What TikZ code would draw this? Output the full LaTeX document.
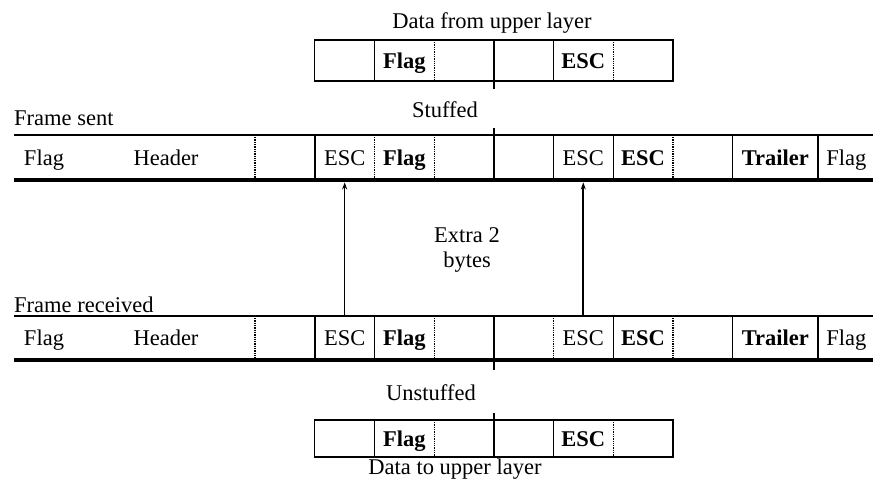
\documentclass[tikz,border=0pt]{standalone}
\usepackage{fontspec}
\setmainfont{Liberation Serif}
\newcommand\bytefont{\bfseries}
\usetikzlibrary{arrows.meta,positioning}

\begin{document}
\begin{tikzpicture}[x=1pt, y=-1pt,
    every node/.style={font=\fontsize{22.5}{25}\selectfont},
    tag/.style={inner sep=0pt, text height=15pt, text depth=0pt},
    cell/.style={tag, minimum width=59.65pt, anchor=west},
    wall/.style={line width=1.5pt},
    gap/.style={line width=1.3pt, densely dotted},
    base/.style={line width=4.5pt},
    arrow/.style={-{Stealth[length=7pt,width=5pt]}, line width=1.6pt, shorten >=2.2pt}
]
\useasboundingbox (0,0) rectangle (873,485);

% Data from upper layer
\node[anchor=base] (upper) at (492,28) {Data from upper layer};
\foreach \i/\txt in {1/{}, 2/{\bytefont Flag}, 3/{}, 4/{}, 5/{\bytefont ESC}, 6/{}}
  \node[cell, minimum height=41pt] (up\i) at (255+59.65*\i, 60.5) {\txt};
\draw[wall] (up1.north west) rectangle (up6.south east);
\foreach \n in {up1,up4} \draw[wall] (\n.north east) -- (\n.south east);
\foreach \n in {up2,up5} \draw[gap] (\n.north east) -- (\n.south east);
\draw[wall] (up3.north east) -- (up3.south east) -- ++(0,8);
\node[anchor=base] (stuffed) at (445,117) {Stuffed};

% Frame sent
\node[anchor=base west, inner sep=0pt] (sentlbl) at (14,125) {Frame sent};
\node[tag] (shflag) at (44,157.5) {Flag};
\node[tag] (shead) at (166,157.5) {Header};
\foreach \i/\txt in {0/{}, 1/ESC, 2/{\bytefont Flag}, 3/{}, 4/{}, 5/ESC, 6/{\bytefont ESC}, 7/{}}
  \node[cell, minimum height=45pt] (s\i) at (255+59.65*\i, 157.5) {\txt};
\node[cell, minimum width=85.2pt, minimum height=45pt, right=0pt of s7] (strail) {\bytefont Trailer};
\node[cell, minimum width=56pt, minimum height=45pt, right=0pt of strail] (sflag) {Flag};
\draw[gap] (s0.north west) -- (s0.south west);
\foreach \n in {s0,s4,s5,s7,strail} \draw[wall] (\n.north east) -- (\n.south east);
\foreach \n in {s1,s2,s6} \draw[gap] (\n.north east) -- (\n.south east);
\draw[wall] (s3.north east) ++(0,-7) -- (s3.south east);
\draw[wall] (14,135) -- (873,135);
\draw[base] (14,180) -- (873,180);

% Frame received
\node[anchor=base west, inner sep=0pt] (rcvdlbl) at (14,312) {Frame received};
\node[tag] (rhflag) at (44,338) {Flag};
\node[tag] (rhead) at (166,338) {Header};
\foreach \i/\txt in {0/{}, 1/ESC, 2/{\bytefont Flag}, 3/{}, 4/{}, 5/ESC, 6/{\bytefont ESC}, 7/{}}
  \node[cell, minimum height=44pt] (r\i) at (255+59.65*\i, 338) {\txt};
\node[cell, minimum width=85.2pt, minimum height=44pt, right=0pt of r7] (rtrail) {\bytefont Trailer};
\node[cell, minimum width=56pt, minimum height=44pt, right=0pt of rtrail] (rflag) {Flag};
\draw[gap] (r0.north west) -- (r0.south west);
\foreach \n in {r0,r1,r5,r7,rtrail} \draw[wall] (\n.north east) -- (\n.south east);
\foreach \n in {r2,r4,r6} \draw[gap] (\n.north east) -- (\n.south east);
\draw[wall] (r3.north east) -- (r3.south east) -- ++(0,10);
\draw[wall] (14,316) -- (873,316);
\draw[base] (14,360) -- (873,360);

% Extra bytes
\draw[arrow] (r1.north) -- (s1.south);
\draw[arrow] (r5.north) -- (s5.south);
\node[align=center, anchor=base] (extra) at (467,267) {Extra 2\\bytes};

% Data to upper layer
\node[anchor=base] (unstuffed) at (431,400) {Unstuffed};
\foreach \i/\txt in {1/{}, 2/{\bytefont Flag}, 3/{}, 4/{}, 5/{\bytefont ESC}, 6/{}}
  \node[cell, minimum height=37pt] (dn\i) at (255+59.65*\i, 438.5) {\txt};
\draw[wall] (dn1.north west) rectangle (dn6.south east);
\foreach \n in {dn1,dn4} \draw[wall] (\n.north east) -- (\n.south east);
\foreach \n in {dn2,dn5} \draw[gap] (\n.north east) -- (\n.south east);
\draw[wall] (dn3.north east) ++(0,-7) -- (dn3.south east);
\node[anchor=base] (lower) at (455,474) {Data to upper layer};
\end{tikzpicture}
\end{document}
